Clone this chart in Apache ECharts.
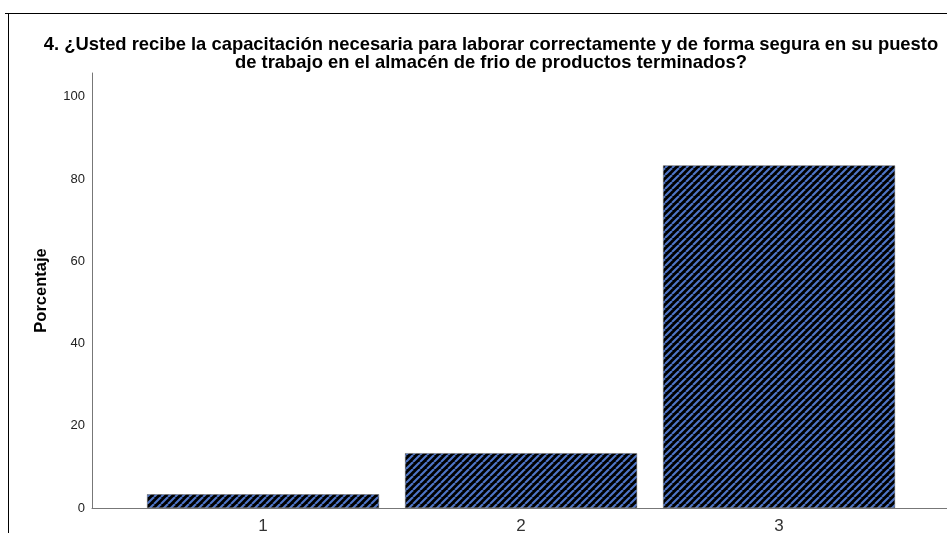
<!DOCTYPE html>
<html><head><meta charset="utf-8">
<script src="https://cdn.jsdelivr.net/npm/echarts@6/dist/echarts.min.js"></script>
<style>html,body{margin:0;padding:0;background:#fff}#c{width:947px;height:533px}</style>
</head><body><div id="c"></div>
<script>
const titleText = "4. ¿Usted recibe la capacitación necesaria para laborar correctamente y de forma segura en su puesto\nde trabajo en el almacén de frio de productos terminados?";
const categories = [1, 2, 3];
const values = [3.33, 13.33, 83.33];
const yTicks = [0, 20, 40, 60, 80, 100];
const yName = "Porcentaje";

// stripe pattern
const tile = document.createElement('canvas');
tile.width = 7; tile.height = 7;
const g = tile.getContext('2d');
g.fillStyle = '#000'; g.fillRect(0, 0, 7, 7);
g.strokeStyle = '#4f76c8'; g.lineWidth = 2.1;
for (const off of [-7, 0, 7]) {
  g.beginPath(); g.moveTo(off, 7); g.lineTo(off + 7, 0); g.stroke();
}

const chart = echarts.init(document.getElementById('c'), null, {renderer: 'canvas'});
chart.setOption({
  backgroundColor: '#fff',
  animation: false,
  title: {
    text: titleText, left: 486, top: 31, textAlign: 'center',
    textStyle: {fontFamily: 'Liberation Sans', fontSize: 18.4, fontWeight: 'bold', color: '#000', lineHeight: 18}
  },
  grid: {left: 92, right: 0, top: 73, bottom: 25, outerBoundsMode: 'none', containLabel: false},
  xAxis: {
    type: 'value', min: 0.337, max: 3.651,
    splitLine: {show: false},
    axisLine: {show: true, lineStyle: {color: '#777', width: 1}},
    axisTick: {show: false},
    axisLabel: {customValues: categories, color: '#333', fontFamily: 'Liberation Sans', fontSize: 17, margin: 10}
  },
  yAxis: {
    type: 'value', min: 0, max: 105.8,
    name: yName, nameLocation: 'middle', nameGap: 42, nameRotate: 90,
    nameTextStyle: {fontFamily: 'Liberation Sans', fontSize: 16.5, fontWeight: 'bold', color: '#000'},
    splitLine: {show: false},
    axisLine: {show: true, lineStyle: {color: '#777', width: 1}},
    axisTick: {show: false},
    axisLabel: {customValues: yTicks, color: '#222', fontFamily: 'Liberation Sans', fontSize: 13, margin: 7}
  },
  graphic: [
    {type: 'line', shape: {x1: 5, y1: 13.5, x2: 947, y2: 13.5}, style: {stroke: '#000', lineWidth: 1}},
    {type: 'line', shape: {x1: 8.5, y1: 13, x2: 8.5, y2: 533}, style: {stroke: '#000', lineWidth: 1}}
  ],
  series: [{
    type: 'bar',
    barWidth: 232,
    data: categories.map((c, i) => [c, values[i]]),
    itemStyle: {color: {image: tile, repeat: 'repeat'}, borderColor: '#666', borderWidth: 0.5}
  }]
});
</script>
</body></html>
